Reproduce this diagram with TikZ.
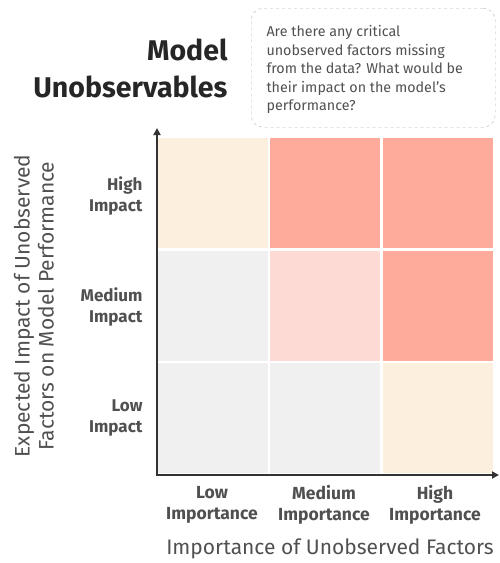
\documentclass[tikz,border=0pt]{standalone}
\usepackage{fontspec}
\setmainfont{Fira Sans}
\usetikzlibrary{arrows.meta}
\definecolor{peach}{HTML}{FDEFDD}
\definecolor{redc}{HTML}{FFAB9B}
\definecolor{pinkc}{HTML}{FDDBD4}
\definecolor{grayc}{HTML}{F0F0F0}
\definecolor{txt}{HTML}{505050}
\definecolor{axisc}{HTML}{333333}
\tikzset{
  cell/.style={draw=none, minimum width=110pt, minimum height=110pt, inner sep=0pt},
  rowlab/.style={font=\fontsize{17}{21}\selectfont\bfseries, text=txt, align=right, anchor=east},
  collab/.style={font=\fontsize{17.5}{21}\selectfont\bfseries, text=txt, align=center},
  axlab/.style={font=\fontsize{21}{24}\selectfont, text=txt, align=center},
  ax/.style={draw=axisc, line width=2.2pt, -{Triangle[length=7pt,width=7pt]}}
}
\begin{document}
\begin{tikzpicture}[x=1pt,y=-1pt]
\useasboundingbox (0,0) rectangle (499,563);
% cells
\node[cell, fill=peach] (c11) at (213,193) {};
\node[cell, fill=redc] (c12) at (325,193) {};
\node[cell, fill=redc] (c13) at (437.5,193) {};
\node[cell, fill=grayc] (c21) at (213,306) {};
\node[cell, fill=pinkc] (c22) at (325,306) {};
\node[cell, fill=redc] (c23) at (437.5,306) {};
\node[cell, fill=grayc] (c31) at (213,418) {};
\node[cell, fill=grayc] (c32) at (325,418) {};
\node[cell, fill=peach] (c33) at (437.5,418) {};
% axes
\coordinate (o) at (157,475);
\coordinate (ytop) at (157,128);
\coordinate (xend) at (499,475);
\draw[ax] (o) -- (ytop);
\draw[ax] ([xshift=-1.1pt]o) -- (xend);
% title
\node[font=\fontsize{28.5}{37}\selectfont\bfseries, text=black!85, align=right, anchor=east] (title) at (231,68) {Model\\Unobservables};
% callout
\node[draw=gray!60, dashed, rounded corners=12pt, minimum width=244pt, minimum height=119pt, anchor=north west] (callout) at (251,8) {};
\node[font=\fontsize{14.3}{18.5}\selectfont, text=txt, align=left, anchor=north west] (q) at (263,22) {Are there any critical\\unobserved factors missing\\from the data? What would be\\their impact on the model's\\performance?};
% row labels
\node[rowlab] (hi) at (146,196) {High\\Impact};
\node[rowlab] (mi) at (146,307) {Medium\\Impact};
\node[rowlab] (li) at (146,418) {Low\\Impact};
% column labels
\node[collab] (lo) at (212,505) {Low\\Importance};
\node[collab] (me) at (324,505) {Medium\\Importance};
\node[collab] (hg) at (435,505) {High\\Importance};
% axis titles
\node[axlab] (xt) at (330,549) {Importance of Unobserved Factors};
\node[axlab, rotate=90] (yt) at (34,306) {Expected Impact of Unobserved\\Factors on Model Performance};
\end{tikzpicture}
\end{document}
